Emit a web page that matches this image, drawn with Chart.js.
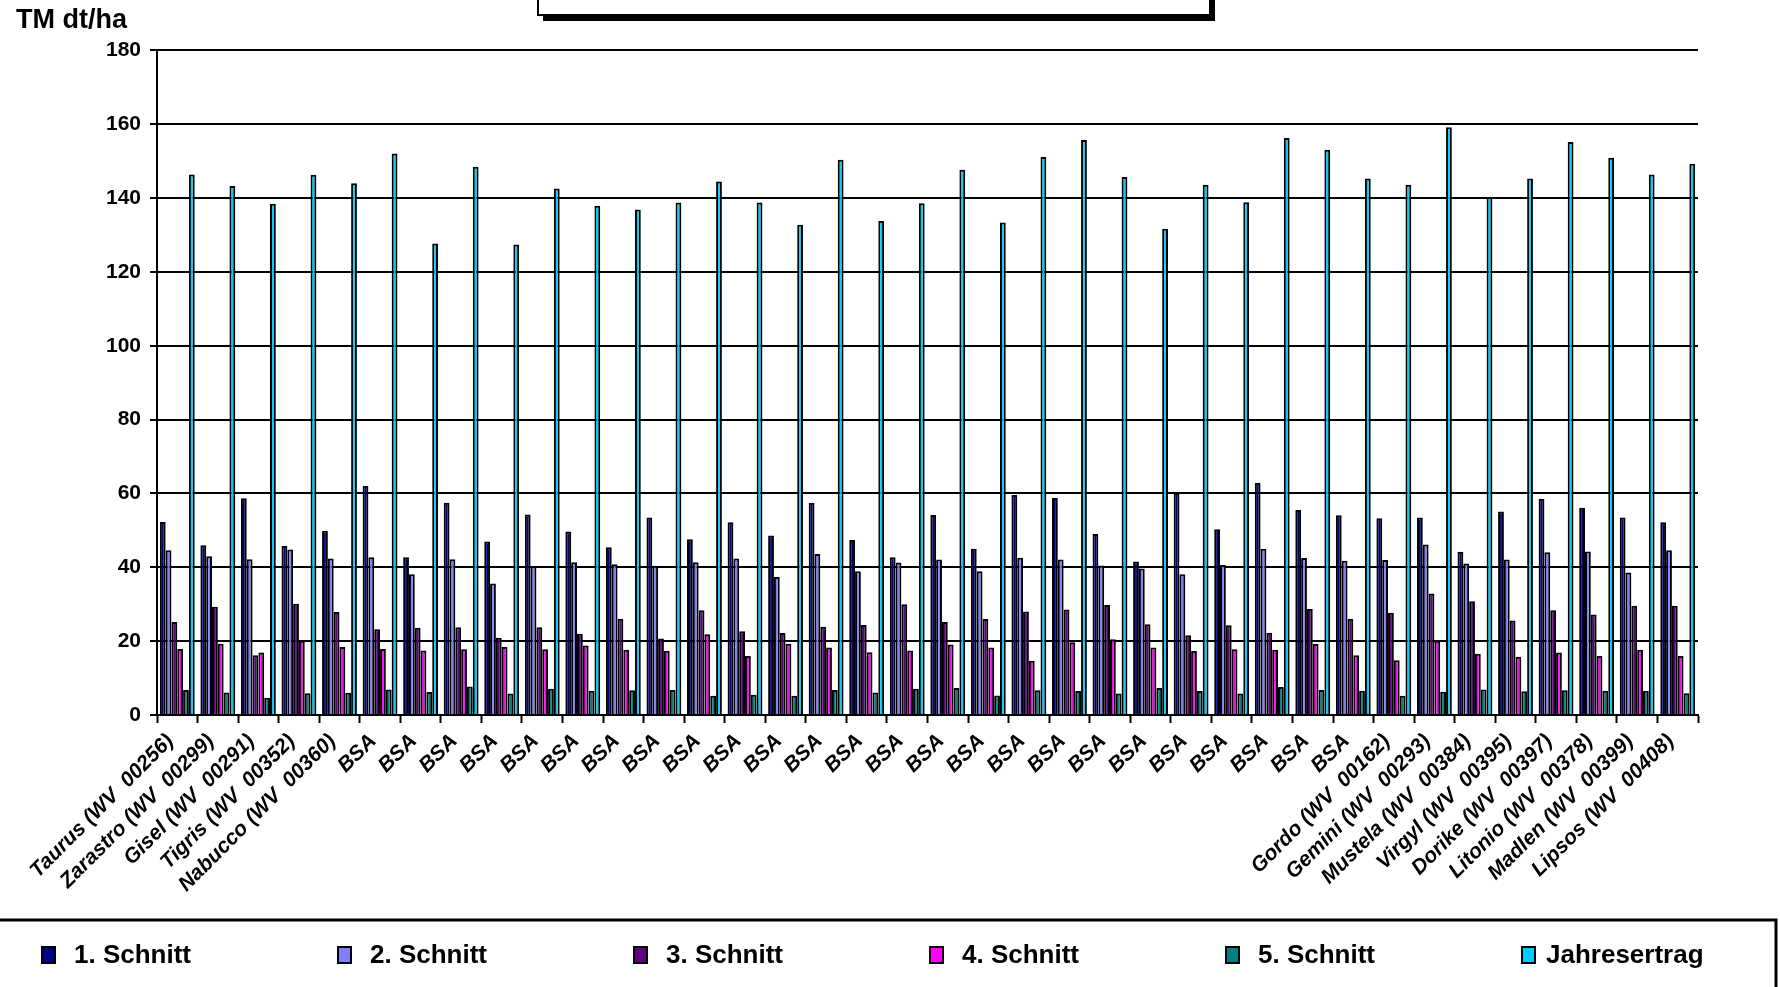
<!DOCTYPE html>
<html lang="de">
<head>
  <meta charset="UTF-8">
  <title>TM dt/ha</title>
  <script src="https://cdn.jsdelivr.net/npm/chart.js"></script>
  <style>
    html, body { margin: 0; padding: 0; background: #fff; }
    canvas { display: block; }
  </style>
</head>
<body>
<canvas id="ertragChart" width="1780" height="987"></canvas>
<script>
const sorten = [
  "Taurus (WV  00256)", "Zarastro (WV  00299)", "Gisel (WV  00291)", "Tigris (WV  00352)", "Nabucco (WV  00360)",
  "BSA", "BSA", "BSA", "BSA", "BSA", "BSA", "BSA", "BSA", "BSA", "BSA", "BSA", "BSA", "BSA",
  "BSA", "BSA", "BSA", "BSA", "BSA", "BSA", "BSA", "BSA", "BSA", "BSA", "BSA", "BSA",
  "Gordo (WV  00162)", "Gemini (WV  00293)", "Mustela (WV  00384)", "Virgyl (WV  00395)",
  "Dorike (WV  00397)", "Litonio (WV  00378)", "Madlen (WV  00399)", "Lipsos (WV  00408)"
];

const schnitt1 = [52.3, 46.0, 58.7, 45.8, 49.9, 62.0, 42.7, 57.5, 47.0, 54.3, 49.7, 45.4, 53.5, 47.6, 52.2, 48.6, 57.4, 47.4, 42.7,
  54.2, 45.0, 59.6, 58.8, 49.0, 41.6, 60.1, 50.3, 62.9, 55.5, 54.1, 53.3, 53.5, 44.2, 55.1, 58.6, 56.1, 53.5, 52.2];
const schnitt2 = [44.6, 43.0, 42.2, 44.8, 42.4, 42.7, 38.1, 42.2, 35.6, 40.3, 41.4, 40.8, 40.4, 41.4, 42.4, 37.4, 43.6, 38.9, 41.3,
  42.1, 38.9, 42.6, 42.1, 40.5, 39.7, 38.1, 40.6, 45.0, 42.5, 41.8, 42.0, 46.2, 41.0, 42.1, 44.1, 44.3, 38.6, 44.6];
const schnitt3 = [25.2, 29.3, 16.2, 30.1, 27.9, 23.2, 23.6, 23.8, 20.9, 23.8, 22.0, 26.1, 20.7, 28.4, 22.7, 22.2, 23.9, 24.4, 30.0,
  25.2, 26.0, 28.0, 28.6, 29.8, 24.6, 21.6, 24.3, 22.3, 28.7, 26.1, 27.7, 32.9, 30.8, 25.6, 28.4, 27.2, 29.6, 29.6];
const schnitt4 = [17.9, 19.3, 16.9, 20.1, 18.4, 17.9, 17.5, 17.8, 18.4, 17.8, 18.8, 17.7, 17.4, 21.9, 16.0, 19.3, 18.3, 17.0, 17.5,
  19.1, 18.3, 14.7, 19.7, 20.5, 18.3, 17.3, 17.8, 17.7, 19.2, 16.2, 14.8, 20.1, 16.6, 15.8, 16.9, 16.0, 17.7, 16.0];
const schnitt5 = [6.8, 6.1, 4.7, 5.9, 6.0, 6.9, 6.2, 7.7, 5.8, 7.1, 6.6, 6.7, 6.8, 5.2, 5.5, 5.2, 6.8, 6.1, 7.1,
  7.3, 5.3, 6.7, 6.5, 5.8, 7.3, 6.5, 5.8, 7.6, 6.8, 6.6, 5.2, 6.3, 6.9, 6.4, 6.7, 6.6, 6.6, 5.9];
const jahresertrag = [146.4, 143.3, 138.5, 146.3, 144.0, 152.1, 127.7, 148.5, 127.4, 142.6, 137.9, 136.9, 138.8, 144.5, 138.8, 132.8, 150.4, 133.8, 138.6,
  147.7, 133.4, 151.1, 155.7, 145.7, 131.7, 143.6, 138.9, 156.3, 153.1, 145.3, 143.6, 159.2, 140.3, 145.3, 155.2, 150.9, 146.4, 149.3];

const serienNamen = ["1. Schnitt", "2. Schnitt", "3. Schnitt", "4. Schnitt", "5. Schnitt", "Jahresertrag"];
const yTicks = [0, 20, 40, 60, 80, 100, 120, 140, 160, 180];

const farben = ["#000080", "#8080FF", "#600080", "#FF00FF", "#008080", "#00CCFF"];
const FONT = "'Liberation Sans', Arial, sans-serif";

// Titelkasten oben und Legende unten (wie im Excel-Diagramm)
const rahmenPlugin = {
  id: "rahmen",
  afterDraw(chart) {
    const ctx = chart.ctx;
    ctx.save();

    // Titelkasten (nur der untere Rand ist sichtbar)
    ctx.fillStyle = "#000";
    ctx.fillRect(543, -20, 672, 41);
    ctx.fillStyle = "#fff";
    ctx.fillRect(538, -20, 672, 35);
    ctx.strokeStyle = "#000";
    ctx.lineWidth = 2;
    ctx.strokeRect(538, -20, 672, 35);

    // Legendenkasten
    ctx.lineWidth = 3;
    ctx.strokeRect(-5, 920, 1781, 100);

    ctx.font = "bold 26px " + FONT;
    ctx.textBaseline = "middle";
    ctx.textAlign = "left";
    chart.data.datasets.forEach((ds, i) => {
      const x = 42 + i * 296;
      const y = 955;
      ctx.fillStyle = ds.backgroundColor;
      ctx.fillRect(x, y - 8, 13, 16);
      ctx.lineWidth = 2;
      ctx.strokeStyle = "#000";
      ctx.strokeRect(x, y - 8, 13, 16);
      ctx.fillStyle = "#000";
      ctx.fillText(ds.label, x + (i === 5 ? 24 : 32), y + 1);
    });
    ctx.restore();
  }
};

const reihen = [schnitt1, schnitt2, schnitt3, schnitt4, schnitt5, jahresertrag];

new Chart(document.getElementById("ertragChart"), {
  type: "bar",
  data: {
    labels: sorten,
    datasets: reihen.map((werte, i) => ({
      label: serienNamen[i],
      data: werte,
      backgroundColor: farben[i],
      borderColor: "#000",
      borderWidth: 2,
      categoryPercentage: 0.86,
      barPercentage: 1.0
    }))
  },
  options: {
    responsive: false,
    animation: false,
    layout: { padding: { left: 16, right: 82, top: 0, bottom: 0 } },
    plugins: {
      legend: { display: false },
      tooltip: { enabled: false },
      title: {
        display: true,
        text: "TM dt/ha",
        align: "start",
        color: "#000",
        font: { family: FONT, size: 27, weight: "bold" },
        padding: { top: 4, bottom: 14 }
      }
    },
    scales: {
      y: {
        min: 0,
        max: 180,
        afterBuildTicks(scale) { scale.ticks = yTicks.map(v => ({ value: v })); },
        afterFit(scale) { scale.width = 141; },
        ticks: {
          color: "#000",
          padding: 9,
          font: { family: FONT, size: 21, weight: "bold" }
        },
        grid: { color: "#000", lineWidth: 2, tickLength: 7, tickColor: "#000", tickWidth: 2 },
        border: { display: true, color: "#000", width: 2 }
      },
      x: {
        afterFit(scale) { scale.height = 272; },
        ticks: {
          autoSkip: false,
          minRotation: 45,
          maxRotation: 45,
          padding: 6,
          labelOffset: -7,
          color: "#000",
          font: { family: FONT, size: 21, weight: "bold", style: "italic" }
        },
        grid: {
          offset: true,
          drawOnChartArea: false,
          drawTicks: true,
          tickLength: 8,
          tickColor: "#000",
          tickWidth: 2
        },
        border: { display: true, color: "#000", width: 2 }
      }
    }
  },
  plugins: [rahmenPlugin]
});
</script>
</body>
</html>
